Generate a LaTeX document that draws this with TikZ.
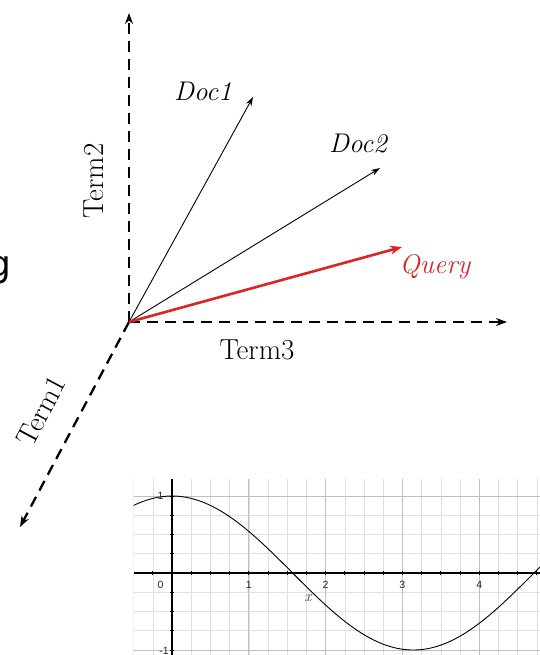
\documentclass[tikz,border=0pt]{standalone}
\usepackage{fontspec}
\newfontfamily\gfont{DejaVu Sans}
\newfontfamily\tickfont{Liberation Sans}
\usetikzlibrary{arrows.meta}
\definecolor{qred}{RGB}{222,35,35}
\tikzset{
  axisline/.style={line width=2.3pt, dash pattern=on 11pt off 7pt, -{Stealth[length=11pt,width=8pt]}},
  docvec/.style={line width=0.9pt, -{Stealth[length=9pt,width=6pt]}},
  qvec/.style={line width=2.6pt, qred, -{Stealth[length=12pt,width=9pt]}},
  lbl/.style={font=\fontsize{29}{32}\selectfont, inner sep=0pt},
  ilbl/.style={font=\fontsize{27}{30}\selectfont\itshape, inner sep=0pt},
  ticklbl/.style={font=\tickfont\fontsize{10.5}{12}\selectfont, text=black!85, inner sep=0pt},
  gridminor/.style={black!12, line width=0.6pt},
  gridmajor/.style={black!25, line width=0.7pt},
}
\begin{document}
\begin{tikzpicture}[x=1pt,y=-1pt]
\useasboundingbox (0,0) rectangle (540,655);
% vector space diagram
\coordinate (O) at (129,322);
\coordinate (t2) at (129,13);
\coordinate (t3) at (507,322);
\coordinate (t1) at (20,527);
\coordinate (d1) at (253,97);
\coordinate (d2) at (380,168);
\coordinate (q) at (402,247);
\draw[axisline] (O) -- (t2);
\draw[axisline] (O) -- (t3);
\draw[axisline] (O) -- (t1);
\draw[docvec] (O) -- (d1);
\draw[docvec] (O) -- (d2);
\draw[qvec] (O) -- (q);
\node[ilbl] (ld1) at (203,91) {Doc1};
\node[ilbl] (ld2) at (358,144) {Doc2};
\node[ilbl, text=qred] (lq) at (435,267) {Query};
\node[lbl, rotate=90] (lt2) at (94,181) {Term2};
\node[lbl] (lt3) at (257,350) {Term3};
\node[lbl, rotate=62] (lt1) at (41,411) {Term1};
\node[font=\gfont\fontsize{36}{40}\selectfont, inner sep=0pt, anchor=base east] (g) at (12,276) {g};
% cosine graph
\begin{scope}[shift={(172,573)}, x=76.8pt, y=77pt]
  \clip (-0.5,-1.08) rectangle (4.8,1.22);
  \draw[gridminor, step=0.25] (-0.75,-1.25) grid (5,1.5);
  \draw[gridmajor, step=1] (-1,-2) grid (5,2);
  \draw[line width=1.1pt] (-0.5,0) -- (4.8,0);
  \draw[line width=1.1pt] (0,-1.08) -- (0,1.22);
  \foreach \t in {-0.25,0.25,0.5,...,4.75} \draw[line width=1pt] (\t,-0.03) -- (\t,0.03);
  \foreach \t in {-1,-0.75,...,1} \draw[line width=1pt] (-0.03,\t) -- (0.03,\t);
  \draw[line width=0.9pt, domain=-0.5:4.8, samples=120, smooth] plot (\x,{cos(\x r)});
  \node[ticklbl] (n0) at (-0.15,-0.16) {0};
  \node[ticklbl] (n1) at (1,-0.16) {1};
  \node[ticklbl] (n2) at (2,-0.16) {2};
  \node[ticklbl] (n3) at (3,-0.16) {3};
  \node[ticklbl] (n4) at (4,-0.16) {4};
  \node[ticklbl] (ny1) at (-0.15,1) {1};
  \node[ticklbl, anchor=east] (nym1) at (-0.04,-1.005) {-1};
  \node[font=\fontsize{16}{18}\selectfont\itshape, text=black!75, inner sep=0pt] (nx) at (1.77,-0.33) {x};
\end{scope}
\end{tikzpicture}
\end{document}
